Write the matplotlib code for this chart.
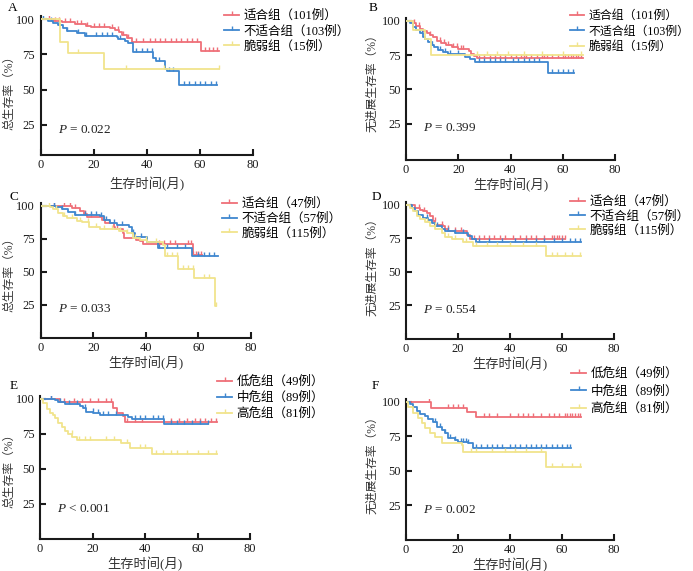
import matplotlib
matplotlib.use("Agg")
import matplotlib.pyplot as plt
from matplotlib.lines import Line2D

plt.rcParams['font.family'] = ['Liberation Serif', 'Noto Sans CJK SC']
plt.rcParams['mathtext.fontset'] = 'custom'
plt.rcParams['mathtext.it'] = 'Liberation Serif:italic'
plt.rcParams['mathtext.rm'] = 'Liberation Serif'

RED = '#ef6f78'
BLUE = '#3f87cf'
YEL = '#f1e48c'

# ---------------- data ----------------
# Panel A: overall survival by fitness
A_fit_t = [5, 8, 13, 17, 19, 26, 28, 29.5, 30.5, 32.4, 34.3, 60.4]
A_fit_s = [99, 98, 96.7, 95.3, 94.8, 93.6, 92.4, 91, 88.9, 86.5, 83.7, 77.1]
A_fit_end = 67.3
A_fit_c = [3, 5.5, 7, 9, 11, 13.5, 15, 17.5, 20, 22, 24, 27, 29, 31, 33, 36, 38.5, 41, 43, 45, 47,
           49, 51, 53, 55, 57, 59, 62, 63.5, 65, 66.5]
A_unf_t = [2.9, 4.8, 6.7, 8.5, 9.8, 12.3, 13.6, 16.7, 28.6, 29.3, 31.8, 33, 34.7, 42.4, 43.5, 46.9, 47.5, 52.2]
A_unf_s = [99, 97.6, 96, 93.6, 92, 91.3, 90, 88, 87.2, 85.8, 84.2, 83, 77, 72.5, 70.5, 64.5, 63, 53.3]
A_unf_end = 66.3
A_unf_c = [1, 4, 7, 10, 14, 17, 21, 23, 25, 27, 30, 36, 38, 40, 42, 44.5, 48.5, 50, 54, 56, 58, 60, 62, 64, 66]
A_frl_t = [7.3, 10.4, 23.9]
A_frl_s = [84, 75.9, 64.8]
A_frl_end = 67
A_frl_c = [14, 32, 46.5, 67]

# Panel B: PFS by fitness
B_fit_t = [2.5, 4, 5.5, 6.5, 8, 9, 10.5, 12, 13.5, 15.5, 17.5, 20, 24, 25, 26, 27]
B_fit_s = [98, 96, 94, 92.5, 91, 89.5, 88, 85.5, 84, 82.5, 81, 79.5, 78, 76, 74.5, 72.6]
B_fit_end = 67.9
B_fit_c = [3, 5, 9, 13, 14.5, 16, 18, 19.5, 21, 22, 28, 30, 32, 34, 36, 38, 40, 42, 44, 45, 46, 48,
           50, 52, 53, 54, 56, 58, 60, 61, 62, 63, 64, 65, 66, 67]
B_unf_t = [1.5, 2.8, 3.7, 5.4, 6.6, 7.3, 8.5, 9.8, 10.8, 12.4, 14.3, 16.2, 22.6, 24.5, 26.4, 54.5]
B_unf_s = [98, 95.6, 93.2, 91.3, 88.3, 86.4, 84.7, 82.3, 81, 79, 77.4, 75.7, 73.8, 71.8, 70.1, 61.7]
B_unf_end = 64.4
B_unf_c = [6, 10, 13, 15, 17, 20, 28, 30, 32, 34, 36, 38, 41, 43, 45, 47, 49, 51, 56, 58, 60, 62, 64]
B_frl_t = [2.5, 7.3, 9.6]
B_frl_s = [93.3, 86.7, 75]
B_frl_end = 67.9
B_frl_c = [27, 31, 35, 39, 45, 52, 60, 67]

# Panel C: OS by fitness
C_fit_t = [11.8, 15, 16.3, 17.8, 23.2, 24.5, 27.7, 28.3, 31.2, 31.7, 36.3, 37.8, 38.9, 57.8]
C_fit_s = [98, 96.2, 93.7, 91.7, 89.2, 86.7, 84.2, 82.2, 79.1, 75.4, 74, 73, 71.4, 62.8]
C_fit_end = 61.3
C_fit_c = [5, 9, 11, 13, 17, 19, 24, 26, 29, 45, 47, 49, 51, 56, 57, 58, 59, 60, 61]
C_unf_t = [6, 8, 10.5, 13, 22.6, 23.9, 26.4, 29, 33.4, 34.7, 36, 40.4, 44.8, 57.5]
C_unf_s = [98.7, 97.2, 95.5, 93.2, 92, 89.2, 86.7, 85.4, 83.7, 79, 76.6, 72.9, 67.8, 61.6]
C_unf_end = 67.3
C_unf_c = [5, 8, 13, 17, 19, 21, 23, 25, 28, 31, 35, 38, 45, 48, 52, 55, 60, 62, 64, 66]
C_frl_t = [3.6, 4.8, 6.7, 8.6, 9.9, 13.7, 15.6, 18.2, 22.6, 29.6, 32.8, 35.3, 37.8, 40.4, 46.7, 47.4,
           52.2, 58.5, 66.4]
C_frl_s = [98.7, 97.2, 94.7, 92.2, 90.5, 88.7, 88, 84.2, 82.2, 81.2, 79.1, 75.4, 74.1, 72.9, 70.4, 61.6,
           52, 45.2, 23.9]
C_frl_end = 66.8
C_frl_c = [3, 6, 9, 12, 15, 18, 21, 24, 27, 30, 33, 36, 40, 44, 48, 50, 52, 54, 56, 58, 62, 64, 66.5]

# Panel D: PFS by fitness
D_fit_t = [3.5, 5.4, 6.7, 7.9, 9.2, 10.5, 11.1, 14.3, 15, 16.3, 23.3, 24.6]
D_fit_s = [97.5, 96.3, 95, 93.8, 91.3, 87.6, 85.1, 84.4, 81.9, 80.1, 77.7, 74.4]
D_fit_end = 61.1
D_fit_c = [5, 7, 11, 14, 16, 19, 21, 26, 28, 30, 32, 34, 36, 38, 41, 44, 46, 48, 50, 53, 56, 57,
           58, 59, 60, 61]
D_unf_t = [2.2, 3.5, 4.7, 6.7, 8.6, 9.9, 11.1, 13.7, 15, 18.8, 23.9, 25.2, 27.1]
D_unf_s = [97.5, 95, 92.6, 90, 88.3, 86.3, 83.9, 81.9, 80.1, 78.9, 76.4, 74.4, 71.9]
D_unf_end = 67.2
D_unf_c = [8, 12, 16, 19, 22, 28, 32, 37, 42, 46, 50, 53, 57, 60, 63, 65, 67]
D_frl_t = [1.5, 2.8, 4.1, 5.4, 7.3, 9.2, 11.1, 13.7, 15, 17.5, 22, 25.9, 54]
D_frl_s = [97.5, 95, 91.8, 89.3, 86.8, 84.4, 81.9, 78.9, 75.9, 74.4, 71.9, 69.5, 62]
D_frl_end = 67.2
D_frl_c = [8, 11, 16, 19, 23, 27, 31, 35, 40, 45, 50, 56, 58, 61, 64, 67]

# Panel E: OS by risk
E_low_t = [7.6, 27.9, 29.2, 31.5, 32.2]
E_low_s = [97.9, 93.6, 89.8, 87.8, 83.1]
E_low_end = 67.6
E_low_c = [4, 9, 13, 16, 19, 22, 25, 27, 33, 36, 39, 50, 53, 56, 59, 61, 63, 65, 67]
E_mid_t = [5.7, 7, 9.5, 15.2, 16.5, 17.5, 20.3, 22.9, 33.7, 34.9, 47.2]
E_mid_s = [98.8, 97.4, 96.4, 95, 93.3, 90.9, 89.8, 88.6, 86.9, 85.5, 82.2]
E_mid_end = 64.1
E_mid_c = [4, 7.5, 11, 14, 17, 20, 22, 24, 26, 29, 36, 38, 40, 43, 45, 47, 50, 52, 55, 58, 61, 64]
E_hig_t = [1.3, 2.5, 3.8, 5.1, 5.7, 7, 8.3, 9.5, 10.8, 12.1, 14, 30.7, 34.3, 42.5]
E_hig_s = [96.9, 92.6, 89.8, 88.6, 86.2, 82.7, 79.8, 76.7, 75.1, 72.7, 70.8, 68.4, 64.8, 60.8]
E_hig_end = 67.3
E_hig_c = [12, 15, 17, 19, 25, 28, 33, 38, 40, 44, 47, 50, 52, 56, 60, 64, 67]

# Panel F: PFS by risk
F_low_t = [9.6, 23.3, 27.1]
F_low_s = [95.2, 92.3, 89.2]
F_low_end = 67.2
F_low_c = [9, 16, 18, 20, 22, 30, 32, 35, 40, 43, 45, 47, 49, 52, 55, 57, 59, 61, 62, 63, 64, 65, 66, 67]
F_mid_t = [1.5, 2.8, 4.1, 5.4, 7.3, 8.6, 10.5, 11.8, 13.7, 15, 16.3, 18.8, 20.1, 23.9, 25.9]
F_mid_s = [98.3, 96.4, 93.5, 91.1, 89.6, 87.2, 85.5, 81.9, 79.5, 77.1, 73.5, 72.3, 71.1, 69.9, 66.3]
F_mid_end = 63.6
F_mid_c = [11, 13, 15, 17, 19, 21, 22, 23, 24, 27, 29, 31, 33, 35, 37, 40, 42, 44, 46, 48, 50, 52,
           54, 56, 58, 60, 62, 63]
F_hig_t = [0.9, 2.8, 4.7, 6, 7.3, 9.2, 11.1, 13.7, 21.4, 22, 54]
F_hig_s = [96.4, 91.6, 88, 84.3, 80.7, 77.1, 74.7, 69.9, 68.7, 63.9, 53]
F_hig_end = 67.2
F_hig_c = [25, 27, 33, 38, 42, 46, 52, 56, 60, 64, 67]

fit_labels_1 = ['适合组（101例）', '不适合组（103例）', '脆弱组（15例）']
fit_labels_2 = ['适合组（47例）', '不适合组（57例）', '脆弱组（115例）']
risk_labels = ['低危组（49例）', '中危组（89例）', '高危组（81例）']
p_values = ['= 0.022', '= 0.399', '= 0.033', '= 0.554', '< 0.001', '= 0.002']
os_label = '总生存率（%）'
pfs_label = '无进展生存率（%）'
x_label = '生存时间(月)'
x_ticks = [0, 20, 40, 60, 80]
y_ticks = [25, 50, 75, 100]

# ---------------- layout (figure px) ----------------
W, H = 693, 571
fig = plt.figure(figsize=(W / 100, H / 100), dpi=100)


def px_axes(l, r, t, b):
    return fig.add_axes([l / W, 1 - b / H, (r - l) / W, (b - t) / H])


def surv_at(times, surv, t):
    v = 100
    for ti, si in zip(times, surv):
        if ti <= t:
            v = si
    return v


def draw_curve(ax, times, surv, end, cens, color):
    xs = [0] + list(times) + [end]
    ys = [100] + list(surv) + [surv[-1]]
    ax.step(xs, ys, where='post', color=color, lw=1.3, zorder=3)
    cy = [surv_at(times, surv, c) for c in cens]
    ax.plot(cens, cy, ls='none', marker=2, ms=3.2, mew=1.0, color=color, zorder=3)


panels = [
    dict(box=(40.7, 253, 16, 155), ylim=(3.6, 102.3), letter='A', lpos=(8, 8),
         curves=[(A_fit_t, A_fit_s, A_fit_end, A_fit_c), (A_unf_t, A_unf_s, A_unf_end, A_unf_c),
                 (A_frl_t, A_frl_s, A_frl_end, A_frl_c)],
         labels=fit_labels_1, ylabel=os_label, p=p_values[0], leg=(224, 10, 15.5), ylab=(15, 90),
         xpad=4.5, lfs=9),
    dict(box=(406, 615, 18, 160), ylim=(-1.5, 102), letter='B', lpos=(369, 8),
         curves=[(B_fit_t, B_fit_s, B_fit_end, B_fit_c), (B_unf_t, B_unf_s, B_unf_end, B_unf_c),
                 (B_frl_t, B_frl_s, B_frl_end, B_frl_c)],
         labels=fit_labels_1, ylabel=pfs_label, p=p_values[1], leg=(570, 10, 15.5), ylab=(378, 80),
         xpad=1, lfs=8.6),
    dict(box=(40.7, 251, 203, 338), ylim=(0, 102), letter='C', lpos=(10, 197),
         curves=[(C_fit_t, C_fit_s, C_fit_end, C_fit_c), (C_unf_t, C_unf_s, C_unf_end, C_unf_c),
                 (C_frl_t, C_frl_s, C_frl_end, C_frl_c)],
         labels=fit_labels_2, ylabel=os_label, p=p_values[2], leg=(222, 198, 15), ylab=(15, 272),
         xpad=1, lfs=9),
    dict(box=(406, 614, 202, 339), ylim=(0, 102), letter='D', lpos=(372, 197),
         curves=[(D_fit_t, D_fit_s, D_fit_end, D_fit_c), (D_unf_t, D_unf_s, D_unf_end, D_unf_c),
                 (D_frl_t, D_frl_s, D_frl_end, D_frl_c)],
         labels=fit_labels_2, ylabel=pfs_label, p=p_values[3], leg=(570, 196, 14.5), ylab=(378, 264),
         xpad=1, lfs=9),
    dict(box=(40, 250, 396, 539), ylim=(0, 102), letter='E', lpos=(10, 386),
         curves=[(E_low_t, E_low_s, E_low_end, E_low_c), (E_mid_t, E_mid_s, E_mid_end, E_mid_c),
                 (E_hig_t, E_hig_s, E_hig_end, E_hig_c)],
         labels=risk_labels, ylabel=os_label, p=p_values[4], leg=(217, 376, 16.3), ylab=(15, 468),
         xpad=1, lfs=9),
    dict(box=(406, 614, 399, 540), ylim=(0, 102), letter='F', lpos=(372, 386),
         curves=[(F_low_t, F_low_s, F_low_end, F_low_c), (F_mid_t, F_mid_s, F_mid_end, F_mid_c),
                 (F_hig_t, F_hig_s, F_hig_end, F_hig_c)],
         labels=risk_labels, ylabel=pfs_label, p=p_values[5], leg=(571, 368, 17.8), ylab=(378, 462),
         xpad=1, lfs=9),
]

colors = [RED, BLUE, YEL]

for P in panels:
    l, r, t, b = P['box']
    ax = px_axes(l, r, t, b)
    for (tt, ss, ee, cc), col in zip(P['curves'], colors):
        draw_curve(ax, tt, ss, ee, cc, col)
    ax.set_xlim(0, 80)
    ax.set_ylim(*P['ylim'])
    ax.set_xticks(x_ticks)
    ax.set_yticks(y_ticks)
    for s in ['top', 'right']:
        ax.spines[s].set_visible(False)
    for s in ['left', 'bottom']:
        ax.spines[s].set_linewidth(1.5)
        ax.spines[s].set_color('#1a1a1a')
    ax.tick_params(direction='in', length=4.5, width=1.5, labelsize=9, pad=3, colors='#1a1a1a')
    ax.tick_params(axis='y', pad=4)
    ax.patch.set_alpha(0)
    ax.set_xlabel(x_label, fontsize=9.5, labelpad=P['xpad'], color='#333333')
    ax.set_ylabel(P['ylabel'], fontsize=8.5, color='#333333')
    yx, yy = P['ylab']
    ax.yaxis.set_label_coords((yx - l) / (r - l), (b - yy) / (b - t))
    ax.text(6.5, 19.5, '$P$ ' + P['p'], fontsize=9.5, color='#222222')
    fig.text(P['lpos'][0] / W, 1 - P['lpos'][1] / H, P['letter'], fontsize=9.5, va='center', ha='left')
    handles = [Line2D([], [], color=c, lw=1.3, marker=2, ms=3.2, mew=1.0) for c in colors]
    lx, ly, sp = P['leg']
    fs = P['lfs']
    ax.legend(handles, P['labels'], loc='upper left', bbox_to_anchor=(lx / W, 1 - ly / H),
              bbox_transform=fig.transFigure, frameon=False, fontsize=fs, handlelength=1.2,
              handletextpad=0.35, borderpad=0, borderaxespad=0,
              labelspacing=(sp / 1.389 - fs * 1.0) / fs, numpoints=1)

fig.savefig('out.png', dpi=100)
